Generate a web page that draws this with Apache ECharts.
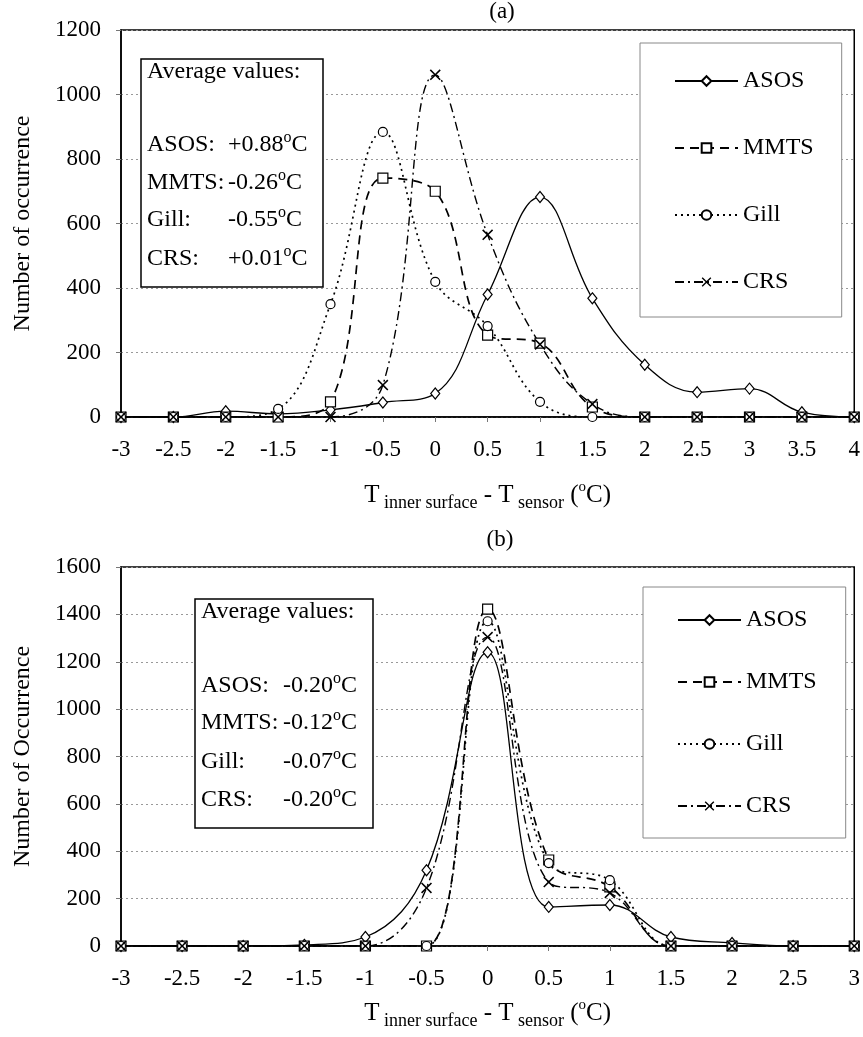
<!DOCTYPE html>
<html>
<head>
<meta charset="utf-8">
<script src="https://cdn.jsdelivr.net/npm/echarts@6/dist/echarts.min.js"></script>
<style>html,body{margin:0;padding:0;background:#fff}#c{width:863px;height:1037px}</style>
</head>
<body>
<div id="c"></div>
<script>
// ---- Panel (a) data ----
const xA = [-3, -2.5, -2, -1.5, -1, -0.5, 0, 0.5, 1, 1.5, 2, 2.5, 3, 3.5, 4];
const asosA = [0, 0, 18, 10, 22, 45, 73, 380, 682, 368, 162, 77, 88, 15, 0];
const mmtsA = [0, 0, 0, 0, 47, 741, 700, 254, 229, 31, 0, 0, 0, 0, 0];
const gillA = [0, 0, 0, 25, 350, 884, 419, 282, 47, 0, 0, 0, 0, 0, 0];
const crsA  = [0, 0, 0, 0, 0, 99, 1061, 565, 225, 40, 0, 0, 0, 0, 0];
// ---- Panel (b) data ----
const xB = [-3, -2.5, -2, -1.5, -1, -0.5, 0, 0.5, 1, 1.5, 2, 2.5, 3];
const asosB = [0, 0, 0, 5, 38, 320, 1240, 165, 173, 38, 13, 0, 0];
const mmtsB = [0, 0, 0, 0, 0, 0, 1422, 363, 250, 0, 0, 0, 0];
const gillB = [0, 0, 0, 0, 0, 0, 1371, 350, 278, 0, 0, 0, 0];
const crsB  = [0, 0, 0, 0, 0, 245, 1304, 270, 224, 0, 0, 0, 0];
// ---- labels ----
const seriesNames = ['ASOS', 'MMTS', 'Gill', 'CRS'];
const avgA = ['+0.88', '-0.26', '-0.55', '+0.01'];
const avgB = ['-0.20', '-0.12', '-0.07', '-0.20'];
const avgLabels = ['ASOS:', 'MMTS:', 'Gill:', 'CRS:'];
const yTitleA = 'Number of occurrence';
const yTitleB = 'Number of Occurrence';

const FONT = '"Liberation Serif", "Times New Roman", serif';
const pair = (xs, ys) => xs.map((x, i) => [x, ys[i]]);
const XSYM = 'path://M0,1L1,0L5,4L9,0L10,1L6,5L10,9L9,10L5,6L1,10L0,9L4,5Z';

const styles = {
  ASOS: { symbol: 'diamond', symbolSize: [9, 11], lineStyle: { type: 'solid', width: 1.3 } },
  MMTS: { symbol: 'rect', symbolSize: 10, lineStyle: { type: [9, 6], width: 1.7 } },
  Gill: { symbol: 'circle', symbolSize: 9, lineStyle: { type: [2, 4], width: 1.7 } },
  CRS:  { symbol: XSYM, symbolSize: 11, lineStyle: { type: [9, 4, 2, 4], width: 1.4 } }
};

function mkSeries(name, data, idx) {
  const s = styles[name];
  const isX = s.symbol === XSYM;
  return {
    name: name, type: 'line', xAxisIndex: idx, yAxisIndex: idx,
    data: data, smooth: 0.4,
    symbol: s.symbol, symbolSize: s.symbolSize,
    itemStyle: { color: isX ? '#000' : '#fff', borderColor: '#000', borderWidth: isX ? 0 : 1.2 },
    lineStyle: Object.assign({ color: '#000' }, s.lineStyle),
    emphasis: { disabled: true }, animation: false, z: 3
  };
}

const richName = {
  t: { fontFamily: FONT, fontSize: 25, color: '#000', lineHeight: 34 },
  sub: { fontFamily: FONT, fontSize: 18, color: '#000', verticalAlign: 'bottom', padding: [11, 0, 0, 0] },
  sup: { fontFamily: FONT, fontSize: 15, color: '#000', verticalAlign: 'top', padding: [2, 0, 0, 0] }
};
const xName = '{t|T}{sub| inner surface}{t| - T}{sub| sensor}{t| (}{sup|o}{t|C)}';

function mkX(idx, max, gap) {
  return {
    gridIndex: idx, type: 'value', min: -3, max: max, interval: 0.5,
    name: xName, nameLocation: 'middle', nameGap: gap,
    nameTextStyle: { rich: richName },
    axisLine: { onZero: false, lineStyle: { color: '#000', width: 1.5 } },
    axisTick: { show: true, length: 5, lineStyle: { color: '#777' } },
    axisLabel: { fontFamily: FONT, fontSize: 23, color: '#000', margin: 21 },
    splitLine: { show: false }
  };
}
function mkY(idx, max, title) {
  return {
    gridIndex: idx, type: 'value', min: 0, max: max, interval: 200,
    name: title, nameLocation: 'middle', nameGap: 86, nameRotate: 90,
    nameTextStyle: { fontFamily: FONT, fontSize: 24, color: '#000' },
    axisLine: { show: true, onZero: false, lineStyle: { color: '#000', width: 1.5 } },
    axisTick: { show: true, length: 5, lineStyle: { color: '#777' } },
    axisLabel: { fontFamily: FONT, fontSize: 23, color: '#000', margin: 20, formatter: v => String(v) },
    splitLine: { show: true, lineStyle: { color: '#999', type: [2, 3], width: 1 } }
  };
}

function mkLegend(left, top, pad, gap) {
  return {
    orient: 'vertical', left: left, top: top, padding: pad,
    data: seriesNames, itemWidth: 63, itemHeight: 12, itemGap: gap,
    borderColor: '#888', borderWidth: 1, backgroundColor: '#fff',
    selectedMode: false,
    textStyle: { fontFamily: FONT, fontSize: 24, color: '#000' }
  };
}

function textBox(x, y, w, h, valX, rows, avgs) {
  const els = [{ type: 'rect', shape: { x: x, y: y, width: w, height: h },
    style: { fill: '#fff', stroke: '#000', lineWidth: 1.5 }, z: 10 }];
  els.push({ type: 'text', x: x + 6, y: rows[0], z: 11,
    style: { text: 'Average values:', font: '24px ' + FONT, fill: '#000', textVerticalAlign: 'middle' } });
  for (let i = 0; i < 4; i++) {
    els.push({ type: 'text', x: x + 6, y: rows[i + 1], z: 11,
      style: { text: avgLabels[i], font: '24px ' + FONT, fill: '#000', textVerticalAlign: 'middle' } });
    els.push({ type: 'text', x: valX, y: rows[i + 1] - 16, z: 11,
      style: { text: '{n|' + avgs[i] + '}{s|o}{n|C}', fill: '#000',
        rich: { n: { fontFamily: FONT, fontSize: 24, lineHeight: 32 },
                s: { fontFamily: FONT, fontSize: 16, verticalAlign: 'top', padding: [1, 0, 0, 0] } } } });
  }
  return els;
}

const chart = echarts.init(document.getElementById('c'), null, { renderer: 'canvas' });
const option = {
  backgroundColor: '#fff',
  animation: false,
  grid: [
    { left: 121, top: 30, width: 740, height: 387, show: true, borderColor: '#000', borderWidth: 1.5, backgroundColor: 'transparent' },
    { left: 121, top: 567, width: 740, height: 379, show: true, borderColor: '#000', borderWidth: 1.5, backgroundColor: 'transparent' }
  ],
  xAxis: [mkX(0, 4, 61), mkX(1, 3, 50)],
  yAxis: [mkY(0, 1200, yTitleA), mkY(1, 1600, yTitleB)],
  legend: [
    mkLegend(640, 43, [26, 28, 23, 34], 43),
    mkLegend(643, 587, [21, 29, 20, 34], 38)
  ],
  graphic: [
    { type: 'text', x: 502, y: 12, style: { text: '(a)', font: '23px ' + FONT, fill: '#000', textAlign: 'center', textVerticalAlign: 'middle' } },
    { type: 'text', x: 500, y: 540, style: { text: '(b)', font: '23px ' + FONT, fill: '#000', textAlign: 'center', textVerticalAlign: 'middle' } }
  ].concat(textBox(141, 59, 182, 228, 228, [72, 145, 183, 220, 259], avgA))
   .concat(textBox(195, 599, 178, 229, 283, [612, 686, 723, 762, 800], avgB)),
  series: [
    mkSeries('ASOS', pair(xA, asosA), 0),
    mkSeries('MMTS', pair(xA, mmtsA), 0),
    mkSeries('Gill', pair(xA, gillA), 0),
    mkSeries('CRS', pair(xA, crsA), 0),
    mkSeries('ASOS', pair(xB, asosB), 1),
    mkSeries('MMTS', pair(xB, mmtsB), 1),
    mkSeries('Gill', pair(xB, gillB), 1),
    mkSeries('CRS', pair(xB, crsB), 1)
  ]
};
chart.setOption(option);
</script>
</body>
</html>
